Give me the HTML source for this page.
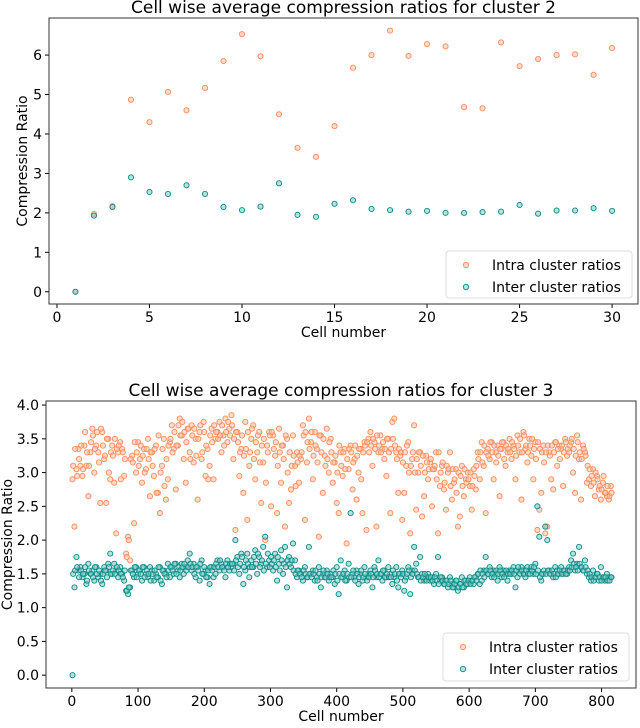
<!DOCTYPE html>
<html><head><meta charset="utf-8"><style>
body{margin:0;background:#fff}
svg text{font-family:"DejaVu Sans","Liberation Sans",sans-serif;fill:#000}
</style></head><body>
<svg id="fig" width="640" height="723" xmlns="http://www.w3.org/2000/svg"></svg>
<script>
// ---- Cluster 2 data ----
const c2Cells=[1,2,3,4,5,6,7,8,9,10,11,12,13,14,15,16,17,18,19,20,21,22,23,24,25,26,27,28,29,30];
const c2Intra=[0,1.97,2.17,4.87,4.3,5.07,4.6,5.17,5.85,6.53,5.97,4.5,3.65,3.42,4.2,5.68,6.0,6.62,5.98,6.28,6.22,4.68,4.65,6.32,5.72,5.9,6.0,6.02,5.5,6.18];
const c2Inter=[0,1.93,2.15,2.9,2.53,2.48,2.7,2.48,2.15,2.07,2.16,2.75,1.95,1.9,2.23,2.32,2.1,2.07,2.03,2.05,2.0,2.0,2.02,2.03,2.2,1.98,2.06,2.06,2.12,2.05];
const c2XTicks=[0,5,10,15,20,25,30];
const c2YTicks=[0,1,2,3,4,5,6];
// ---- Cluster 3 data: cells 1,4,7,... (A) and 2,5,8,... (B) ----
const c3IntraA=[2.9,2.2,3.05,3.35,3.1,2.95,3.4,3.1,2.65,3.3,
3.65,3.0,3.4,3.3,2.55,3.6,3.2,2.55,3.5,2.9,
3.4,2.85,2.1,3.3,3.45,3.35,2.95,1.8,2.05,1.7,
3.25,2.25,3.0,3.45,3.2,2.85,3.35,3.05,3.5,2.65,
3.3,2.95,3.4,2.7,2.4,3.1,3.5,2.6,2.9,3.45,
3.7,3.35,2.75,3.4,3.8,3.55,3.2,2.85,3.65,3.3,
3.7,3.15,3.5,2.6,3.6,3.2,3.75,2.95,3.35,3.1,
3.65,2.9,3.5,3.6,3.75,3.3,3.55,3.8,3.45,3.65,
3.85,3.2,2.15,3.6,2.95,3.35,2.7,3.75,2.3,3.1,
3.5,3.7,2.9,3.3,3.6,2.55,3.15,2.0,3.4,3.6,
2.5,3.55,3.25,2.4,3.65,2.85,3.4,2.2,3.5,2.55,
2.75,3.55,3.1,3.3,2.85,3.2,3.7,2.3,3.15,3.8,
3.45,2.9,3.6,3.35,2.05,3.55,2.7,3.25,3.65,3.0,
3.5,2.85,3.15,2.55,2.4,3.3,2.95,3.35,1.95,3.05,
3.4,2.75,3.2,2.6,3.0,3.35,2.4,3.45,2.15,3.5,
3.6,3.1,3.45,2.2,3.3,3.55,3.35,3.2,2.95,3.5,
2.4,3.75,3.8,3.3,2.7,3.25,2.3,2.7,3.1,3.45,
2.1,3.2,3.7,2.45,3.0,3.3,2.35,2.65,3.25,2.9,
3.15,2.5,3.05,3.3,2.1,2.8,3.1,2.75,2.45,3.0,
3.3,2.6,2.85,3.05,2.2,2.35,3.1,2.65,2.9,3.0,
2.8,2.45,3.05,2.75,3.3,2.9,3.45,3.1,2.4,3.35,
3.2,3.45,2.9,3.3,3.4,2.65,3.35,3.45,3.1,3.3,
3.5,3.2,3.4,2.9,3.55,3.3,2.6,3.6,3.35,3.15,
3.5,3.25,2.9,3.45,2.15,2.45,2.7,3.4,2.1,2.2,
3.3,2.9,2.75,3.45,3.1,3.4,3.35,2.8,3.5,3.25,
3.3,3.45,3.0,2.7,3.55,3.2,2.6,3.4,3.3,2.85,
2.9,2.8,3.05,2.65,2.95,2.75,2.6,2.85,2.7,2.65,
2.6,2.8];
const c3IntraB=[3.1,3.35,2.95,3.2,3.4,3.05,3.6,3.3,3.1,3.45,
3.55,3.35,3.6,3.15,3.65,3.4,3.25,3.5,3.0,3.3,
3.25,3.5,3.35,3.4,2.9,3.3,3.2,1.75,2.0,3.2,
3.15,3.45,3.3,3.1,3.4,3.25,3.0,3.35,3.2,3.3,
3.1,3.35,2.7,3.55,3.0,3.35,2.8,3.2,3.4,3.5,
3.3,3.6,3.4,3.7,3.55,3.75,3.6,3.45,3.65,3.2,
3.55,3.65,3.25,3.5,3.7,3.3,3.6,3.4,2.9,3.55,
3.45,3.7,3.6,3.5,3.55,3.7,3.4,3.6,3.75,3.55,
3.7,3.5,3.6,3.45,3.3,3.55,3.25,3.35,3.6,3.3,
3.65,3.2,3.45,3.55,3.15,3.4,3.5,2.85,3.3,3.55,
3.6,3.35,3.45,3.1,3.3,3.4,3.2,3.55,3.0,3.3,
3.1,3.25,2.8,3.15,3.25,3.3,3.55,3.6,3.45,3.35,
3.6,3.25,3.4,3.15,3.55,3.3,3.5,3.1,3.2,3.45,
3.3,3.15,3.25,3.0,3.4,3.1,3.3,3.05,3.2,3.35,
3.3,3.15,3.4,3.25,3.35,2.9,3.3,3.4,3.45,3.3,
3.4,3.5,3.35,3.55,3.4,3.3,3.45,3.35,3.5,3.3,
3.35,3.5,3.4,3.2,3.35,3.3,3.15,3.3,3.4,3.0,
3.1,3.3,3.0,3.2,3.3,3.1,3.25,3.0,3.15,3.05,
3.2,3.05,3.1,2.9,3.3,3.0,3.15,2.85,3.1,3.05,
2.8,3.05,2.9,2.7,3.0,2.95,2.8,3.05,2.85,2.9,
3.0,2.8,2.95,3.1,3.2,3.3,3.15,3.4,3.3,3.25,
3.45,3.3,3.4,3.15,3.25,3.35,3.45,3.2,3.4,3.35,
3.3,3.45,3.35,3.25,3.4,3.5,3.3,3.55,3.4,3.3,
3.4,3.5,3.35,3.2,3.45,3.35,3.3,3.15,3.3,3.4,
3.25,3.4,3.3,3.45,3.35,3.2,3.4,3.3,3.45,3.35,
3.4,3.5,3.35,3.25,3.45,3.3,3.2,3.35,3.25,3.1,
3.05,2.95,2.85,3.0,2.9,2.8,2.75,2.95,2.7,2.8,
2.65,2.7];
const c3InterA=[0,1.3,1.75,1.55,1.6,1.45,1.5,1.35,1.65,1.5,
1.55,1.4,1.6,1.45,1.5,1.35,1.6,1.55,1.65,1.8,
1.5,1.65,1.55,1.45,1.6,1.5,1.4,1.25,1.2,1.3,
1.55,1.45,1.6,1.5,1.55,1.4,1.6,1.5,1.45,1.6,
1.55,1.4,1.5,1.45,1.6,1.35,1.55,1.5,1.65,1.45,
1.6,1.5,1.65,1.55,1.45,1.65,1.5,1.6,1.7,1.8,
1.55,1.65,1.45,1.6,1.4,1.7,1.5,1.55,1.45,1.35,
1.6,1.45,1.5,1.7,1.55,1.65,1.6,1.45,1.7,1.55,
1.6,1.65,2.0,1.75,1.5,1.8,1.35,1.55,1.8,1.45,
1.7,1.6,1.85,1.5,1.75,1.65,1.9,2.05,1.6,1.7,
1.75,1.55,1.8,1.4,1.65,1.85,1.5,1.9,1.3,1.75,
1.6,1.95,1.7,1.45,1.55,1.5,1.4,1.6,1.45,1.9,
1.5,1.55,1.4,1.45,1.6,1.3,1.5,1.45,1.55,1.4,
1.5,1.45,1.35,1.6,1.2,1.7,1.45,1.55,1.4,1.65,
2.4,1.5,1.45,1.55,1.35,1.5,1.4,1.6,1.45,1.5,
1.55,1.3,1.6,1.45,1.7,1.5,1.4,1.55,1.45,1.6,
1.5,1.35,1.45,1.6,1.3,1.5,1.55,1.25,1.45,1.6,
1.2,1.55,1.9,1.65,1.45,1.75,1.5,1.4,1.45,1.5,
1.4,1.45,1.35,1.5,1.75,1.4,1.45,1.35,1.4,1.3,
1.45,1.35,1.3,1.4,1.25,1.35,1.45,1.3,1.4,1.35,
1.45,1.4,1.35,1.45,1.5,1.35,1.4,1.55,1.75,1.5,
1.6,1.45,1.55,1.5,1.4,1.6,1.45,1.55,1.5,1.4,
1.55,1.5,1.6,1.3,1.45,1.55,1.6,1.5,1.45,1.6,
1.55,1.6,1.5,1.65,2.5,2.05,1.4,1.5,2.2,2.0,
1.55,1.5,1.45,1.6,1.55,1.5,1.6,1.5,1.55,1.5,
1.6,1.7,1.8,1.55,1.65,1.9,1.6,1.55,1.7,1.5,
1.45,1.4,1.55,1.45,1.5,1.4,1.6,1.45,1.4,1.5,
1.45,1.45];
const c3InterB=[1.5,1.55,1.6,1.45,1.55,1.5,1.6,1.4,1.55,1.5,
1.45,1.6,1.5,1.55,1.4,1.5,1.55,1.45,1.6,1.5,
1.55,1.5,1.6,1.55,1.5,1.45,1.55,1.25,1.3,1.55,
1.5,1.6,1.45,1.55,1.5,1.6,1.45,1.55,1.5,1.4,
1.5,1.55,1.45,1.6,1.4,1.55,1.5,1.45,1.55,1.6,
1.55,1.65,1.5,1.6,1.55,1.6,1.65,1.55,1.6,1.65,
1.6,1.5,1.6,1.55,1.65,1.5,1.6,1.45,1.55,1.6,
1.55,1.6,1.65,1.6,1.7,1.6,1.55,1.65,1.6,1.65,
1.65,1.55,1.7,1.6,1.65,1.75,1.6,1.7,1.65,1.6,
1.6,1.75,1.65,1.8,1.6,1.7,1.55,1.65,1.8,1.6,
1.65,1.7,1.6,1.75,1.55,1.7,1.65,1.6,1.7,1.65,
1.7,1.55,1.5,1.55,1.5,1.45,1.55,1.5,1.45,1.5,
1.45,1.5,1.55,1.4,1.5,1.45,1.55,1.45,1.5,1.45,
1.45,1.55,1.5,1.4,1.5,1.45,1.5,1.4,1.5,1.45,
1.45,1.55,1.4,1.5,1.45,1.55,1.45,1.5,1.4,1.45,
1.5,1.45,1.55,1.5,1.45,1.5,1.55,1.45,1.5,1.45,
1.45,1.55,1.5,1.4,1.5,1.45,1.5,1.4,1.5,1.55,
1.45,1.5,1.55,1.5,1.45,1.4,1.45,1.5,1.4,1.45,
1.45,1.4,1.45,1.4,1.35,1.45,1.4,1.35,1.4,1.35,
1.4,1.3,1.35,1.4,1.3,1.35,1.3,1.4,1.35,1.4,
1.35,1.4,1.45,1.4,1.5,1.55,1.5,1.45,1.55,1.5,
1.55,1.5,1.45,1.55,1.5,1.55,1.5,1.45,1.55,1.5,
1.5,1.55,1.5,1.55,1.6,1.5,1.55,1.5,1.55,1.5,
1.5,1.55,1.6,1.5,1.55,1.45,1.5,1.55,1.5,1.55,
1.5,1.55,1.5,1.45,1.5,1.55,1.5,1.55,1.5,1.55,
1.55,1.6,1.65,1.6,1.55,1.65,1.6,1.55,1.6,1.55,
1.5,1.45,1.4,1.45,1.5,1.45,1.4,1.45,1.45,1.4,
1.4,1.45];
const c3CellsA=c3IntraA.map((v,i)=>1+3*i);
const c3CellsB=c3IntraB.map((v,i)=>2+3*i);
const c3XTicks=[0,100,200,300,400,500,600,700,800];
const c3YTicks=[0,0.5,1,1.5,2,2.5,3,3.5,4];
const c3YLabels=["0.0","0.5","1.0","1.5","2.0","2.5","3.0","3.5","4.0"];

const NS="http://www.w3.org/2000/svg";
const svg=document.getElementById('fig');
function mk(tag,attrs,parent){const e=document.createElementNS(NS,tag);for(const k in attrs)e.setAttribute(k,attrs[k]);(parent||svg).appendChild(e);return e;}

const IF='rgba(255,190,160,0.55)', IS='#ff8c5a', EF='rgba(120,200,195,0.55)', ES='#0a8a85';

function panel(o){
  const g=mk('g',{});
  
  
  const sx=v=>o.L+(v-o.x0)/(o.x1-o.x0)*(o.R-o.L);
  const sy=v=>o.B-(v-o.y0)/(o.y1-o.y0)*(o.B-o.T);
  const t=mk('text',{x:(o.L+o.R)/2,y:o.T-5,'text-anchor':'middle','font-size':17},g);
  t.textContent=o.title;
  
  
  o.xt.forEach((v,i)=>{
    mk('line',{x1:sx(v),x2:sx(v),y1:o.B,y2:o.B+4,stroke:'#000'},g);
    const tx=mk('text',{x:sx(v),y:o.B+18,'text-anchor':'middle','font-size':14},g);
    tx.textContent=v;
    
    
  });
  o.yt.forEach((v,i)=>{
    mk('line',{x1:o.L-4,x2:o.L,y1:sy(v),y2:sy(v),stroke:'#000'},g);
    const ty=mk('text',{x:o.L-7,y:sy(v)+5,'text-anchor':'end','font-size':14},g);
    ty.textContent=o.yl?o.yl[i]:v;
    
    
  });
  const xl=mk('text',{x:(o.L+o.R)/2,y:o.B+33,'text-anchor':'middle','font-size':14},g);
  xl.textContent='Cell number';
  
  
  const yx=o.L-(o.yw||36), yy=(o.T+o.B)/2;
  const yl=mk('text',{x:yx,y:yy,'text-anchor':'middle','font-size':14,transform:`rotate(-90 ${yx} ${yy})`},g);
  yl.textContent='Compression Ratio';
  
  
  const drawS=(sets,fill,stroke,nm)=>{
    const sg=mk('g',{},g);
    
    
    sets.forEach(([cells,vals])=>vals.forEach((v,i)=>{
      const c=mk('circle',{cx:sx(cells[i]),cy:sy(v),r:o.r,fill:fill,stroke:stroke,'stroke-width':0.9},sg);
      
      
    }));
  };
  drawS(o.intra,IF,IS,'intra-series');
  drawS(o.inter,EF,ES,'inter-series');
  mk('rect',{x:o.L,y:o.T,width:o.R-o.L,height:o.B-o.T,fill:'none',stroke:'#333','stroke-width':1},g);
  const lg=mk('g',{},g);
  
  
  mk('rect',{x:o.lx,y:o.ly,width:o.lw,height:o.lh,rx:3,fill:'#fff',stroke:'#ddd'},lg);
  [['Intra cluster ratios',IF,IS],['Inter cluster ratios',EF,ES]].forEach((d,i)=>{
    const yy=o.ly+14+i*22;
    mk('circle',{cx:o.lx+20,cy:yy,r:2.7,fill:d[1],stroke:d[2],'stroke-width':0.9},lg);
    const tt=mk('text',{x:o.lx+46,y:yy+5,'font-size':14},lg);
    tt.textContent=d[0];
    
    
  });
}
panel({name:'cluster-2-chart',title:'Cell wise average compression ratios for cluster 2',L:49,R:638,T:18,B:304,x0:-0.43,x1:31.4,y0:-0.31,y1:6.94,
  intra:[[c2Cells,c2Intra]],inter:[[c2Cells,c2Inter]],xt:c2XTicks,yt:c2YTicks,r:2.6,lx:446,ly:251,lw:186,lh:47,yw:22});
panel({name:'cluster-3-chart',title:'Cell wise average compression ratios for cluster 3',L:46,R:636,T:401,B:688,x0:-39,x1:852,y0:-0.19,y1:4.06,
  intra:[[c3CellsA,c3IntraA],[c3CellsB,c3IntraB]],inter:[[c3CellsA,c3InterA],[c3CellsB,c3InterB]],xt:c3XTicks,yt:c3YTicks,yl:c3YLabels,r:2.6,lx:443,ly:633,lw:186,lh:48,yw:34});
</script>
</body></html>
